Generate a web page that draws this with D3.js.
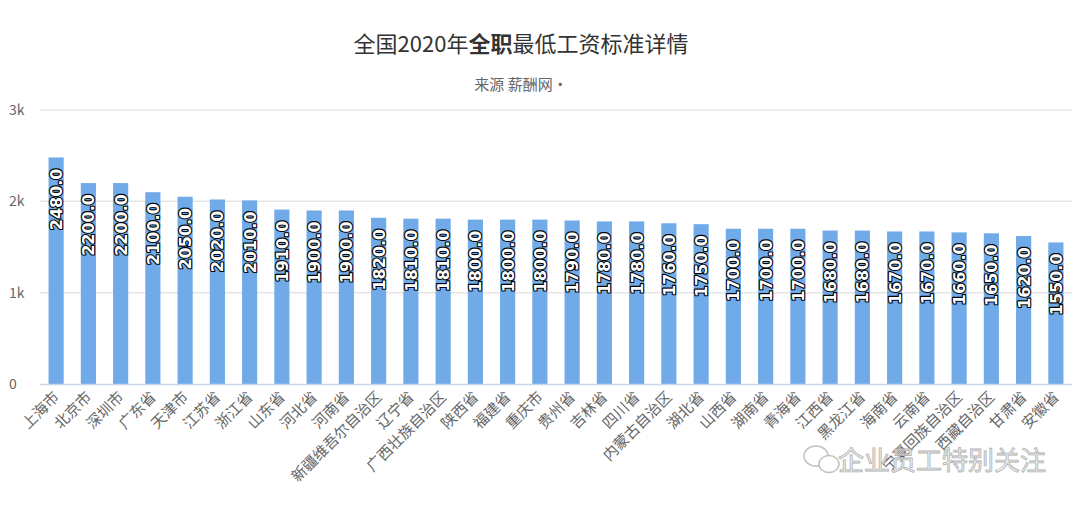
<!DOCTYPE html>
<html><head><meta charset="utf-8">
<script src="https://cdn.jsdelivr.net/npm/d3@7/dist/d3.min.js"></script>
<style>
body{margin:0;background:#fff;}
svg{display:block;}
</style></head>
<body>
<svg id="chart" width="1080" height="506"></svg>
<script>
const categories = ["上海市","北京市","深圳市","广东省","天津市","江苏省","浙江省","山东省","河北省","河南省","新疆维吾尔自治区","辽宁省","广西壮族自治区","陕西省","福建省","重庆市","贵州省","吉林省","四川省","内蒙古自治区","湖北省","山西省","湖南省","青海省","江西省","黑龙江省","海南省","云南省","宁夏回族自治区","西藏自治区","甘肃省","安徽省"];
const values = [2480,2200,2200,2100,2050,2020,2010,1910,1900,1900,1820,1810,1810,1800,1800,1800,1790,1780,1780,1760,1750,1700,1700,1700,1680,1680,1670,1670,1660,1650,1620,1550];
const yTicks = [0,1000,2000,3000];
const yTickLabels = ["0","1k","2k","3k"];

const svg = d3.select("#chart");
const font = "'Noto Sans CJK SC','DejaVu Sans',sans-serif";
const plotLeft = 40, plotRight = 1072, plotTop = 110, plotBottom = 384;

const x = d3.scaleBand().domain(categories).range([plotLeft, plotRight]).paddingInner(0.53).paddingOuter(0.265);
const y = d3.scaleLinear().domain([0, 3000]).range([plotBottom, plotTop]);

// title
const title = svg.append("text").attr("x", 521).attr("y", 52).attr("text-anchor", "middle")
  .attr("font-family", font).attr("font-size", 22).attr("fill", "#333");
title.append("tspan").text("全国2020年");
title.append("tspan").attr("font-weight", "bold").text("全职");
title.append("tspan").text("最低工资标准详情");

svg.append("text").attr("x", 521).attr("y", 90).attr("text-anchor", "middle")
  .attr("font-family", font).attr("font-size", 15).attr("fill", "#666")
  .text("来源  薪酬网·");

// grid
svg.append("g").selectAll("line").data(yTicks.filter(d => d > 0)).join("line")
  .attr("x1", plotLeft).attr("x2", plotRight)
  .attr("y1", d => y(d)).attr("y2", d => y(d))
  .attr("stroke", "#e6e6e6").attr("stroke-width", 1.5);

// y labels
svg.append("g").selectAll("text").data(yTicks).join("text")
  .attr("x", 9).attr("y", d => y(d) + 5)
  .attr("font-family", font).attr("font-size", 14).attr("fill", "#666")
  .text((d, i) => yTickLabels[i]);

// bars
svg.append("g").selectAll("rect").data(values).join("rect")
  .attr("x", (d, i) => x(categories[i])).attr("width", x.bandwidth())
  .attr("y", d => y(d)).attr("height", d => plotBottom - y(d))
  .attr("fill", "#70aae8");

// axis line
svg.append("line").attr("x1", plotLeft).attr("x2", plotRight).attr("y1", plotBottom + 0.5).attr("y2", plotBottom + 0.5)
  .attr("stroke", "#ccd6eb").attr("stroke-width", 1.5);

// data labels
svg.append("g").selectAll("text").data(values).join("text")
  .attr("transform", (d, i) => `translate(${x(categories[i]) + x.bandwidth() / 2 + 6},${y(d) + 11}) rotate(-90)`)
  .attr("text-anchor", "end")
  .attr("font-family", "'DejaVu Sans',sans-serif").attr("font-weight", "bold").attr("font-size", 16)
  .attr("fill", "#fff").attr("stroke", "#000").attr("stroke-width", 2.2).attr("paint-order", "stroke")
  .attr("stroke-linejoin", "round")
  .text(d => d.toFixed(1));

// x labels
svg.append("g").selectAll("text").data(categories).join("text")
  .attr("transform", d => `translate(${x(d) + x.bandwidth() / 2 + 4},${plotBottom + 14}) rotate(-45)`)
  .attr("text-anchor", "end")
  .attr("font-family", font).attr("font-size", 15).attr("fill", "#666")
  .text(d => d);

// watermark
const wm = svg.append("g").attr("opacity", 0.9);
wm.append("ellipse").attr("cx", 816).attr("cy", 456).attr("rx", 12).attr("ry", 10)
  .attr("fill", "none").attr("stroke", "#bbb").attr("stroke-width", 1.5);
wm.append("ellipse").attr("cx", 829).attr("cy", 464).attr("rx", 10).attr("ry", 8.5)
  .attr("fill", "#fff").attr("stroke", "#bbb").attr("stroke-width", 1.5);
wm.append("text").attr("x", 838).attr("y", 470)
  .attr("font-family", font).attr("font-size", 26).attr("fill", "#eee")
  .attr("stroke", "#aaa").attr("stroke-width", 0.8)
  .text("企业员工特别关注");
</script>
</body></html>
